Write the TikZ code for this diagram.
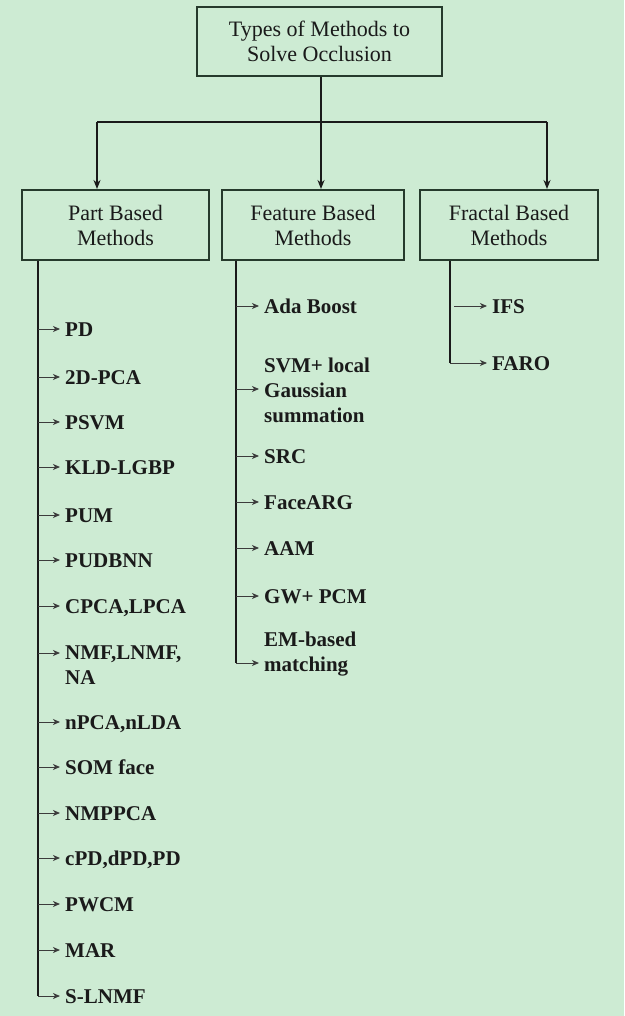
\documentclass[tikz,border=0pt]{standalone}
\usepackage{fontspec}
\setmainfont{Liberation Serif}
\usetikzlibrary{arrows.meta}
\definecolor{bg}{HTML}{CDEBD3}
\definecolor{boxc}{HTML}{263A2C}
\definecolor{ink}{HTML}{1A1A1A}
\begin{document}
\begin{tikzpicture}[x=1pt,y=-1pt,
  box/.style={draw=boxc, line width=2pt, fill=bg, align=center, text=ink,
    font=\fontsize{22}{25}\selectfont, inner sep=0pt},
  item/.style={anchor=west, inner xsep=5pt, inner ysep=0pt, text height=14pt,
    text depth=0pt, text=ink, font=\fontsize{21}{25}\selectfont\bfseries},
  mitem/.style={anchor=north west, inner xsep=5pt, inner ysep=0pt, align=left,
    text=ink, font=\fontsize{21}{25}\selectfont\bfseries},
  trunk/.style={draw=ink, line width=2pt},
  toparr/.style={draw=ink, line width=2pt, -{Stealth[length=9pt,width=7pt]}},
  arr/.style={draw=ink!85, line width=1pt, -{Stealth[length=7pt,width=6pt,inset=2pt]}}
]
\useasboundingbox[fill=bg] (0,0) rectangle (624,1016);

% boxes
\node[box, minimum width=245pt, minimum height=69pt] (title) at (319.5,41.5) {Types of Methods to\\Solve Occlusion};
\node[box, minimum width=187pt, minimum height=70pt] (part) at (115.5,225) {Part Based\\Methods};
\node[box, minimum width=182pt, minimum height=70pt] (feat) at (313,225) {Feature Based\\Methods};
\node[box, minimum width=178pt, minimum height=70pt] (frac) at (509,225) {Fractal Based\\Methods};

% top connectors
\coordinate (jL) at (97,122);
\coordinate (jM) at (321,122);
\coordinate (jR) at (547,122);
\draw[trunk] (title.south -| jM) -- (jM);
\draw[trunk] (jL) -- (jR);
\draw[toparr] (jL) -- (jL |- part.north);
\draw[toparr] (jM) -- (jM |- feat.north);
\draw[toparr] (jR) -- (jR |- frac.north);

% Part based column
\coordinate (pe) at (38,996);
\draw[trunk] (part.south -| pe) -- (pe);
\coordinate (a1) at (38,329);  \node[item] (i1) at (60,329) {PD};
\coordinate (a2) at (38,377);  \node[item] (i2) at (60,377) {2D-PCA};
\coordinate (a3) at (38,422);  \node[item] (i3) at (60,422) {PSVM};
\coordinate (a4) at (38,467);  \node[item] (i4) at (60,467) {KLD-LGBP};
\coordinate (a5) at (38,515);  \node[item] (i5) at (60,515) {PUM};
\coordinate (a6) at (38,560);  \node[item] (i6) at (60,560) {PUDBNN};
\coordinate (a7) at (38,606);  \node[item] (i7) at (60,606) {CPCA,LPCA};
\coordinate (a8) at (38,653);  \node[mitem] (i8) at (60,646) {NMF,LNMF,\\NA};
\coordinate (a9) at (38,722);  \node[item] (i9) at (60,722) {nPCA,nLDA};
\coordinate (a10) at (38,767); \node[item] (i10) at (60,767) {SOM face};
\coordinate (a11) at (38,813); \node[item] (i11) at (60,813) {NMPPCA};
\coordinate (a12) at (38,858); \node[item] (i12) at (60,858) {cPD,dPD,PD};
\coordinate (a13) at (38,904); \node[item] (i13) at (60,904) {PWCM};
\coordinate (a14) at (38,950); \node[item] (i14) at (60,950) {MAR};
\coordinate (a15) at (38,996); \node[item] (i15) at (60,996) {S-LNMF};
\foreach \k in {1,...,15} \draw[arr] (a\k) -- (a\k -| i\k.west);

% Feature based column
\coordinate (fe) at (236,663);
\draw[trunk] (feat.south -| fe) -- (fe);
\coordinate (b1) at (236,306); \node[item] (j1) at (259,306) {Ada Boost};
\coordinate (b2) at (236,389); \node[mitem] (j2) at (259,358) {SVM+ local\\Gaussian\\summation};
\coordinate (b3) at (236,456); \node[item] (j3) at (259,456) {SRC};
\coordinate (b4) at (236,502); \node[item] (j4) at (259,502) {FaceARG};
\coordinate (b5) at (236,548); \node[item] (j5) at (259,548) {AAM};
\coordinate (b6) at (236,596); \node[item] (j6) at (259,596) {GW+ PCM};
\coordinate (b7) at (236,663); \node[mitem] (j7) at (259,632) {EM-based\\matching};
\foreach \k in {1,...,7} \draw[arr] (b\k) -- (b\k -| j\k.west);

% Fractal based column
\coordinate (ce) at (450,363);
\draw[trunk] (frac.south -| ce) -- (ce);
\coordinate (c1) at (454,306); \node[item] (k1) at (487,306) {IFS};
\coordinate (c2) at (450,363); \node[item] (k2) at (487,363) {FARO};
\foreach \k in {1,2} \draw[arr] (c\k) -- (c\k -| k\k.west);
\end{tikzpicture}
\end{document}
